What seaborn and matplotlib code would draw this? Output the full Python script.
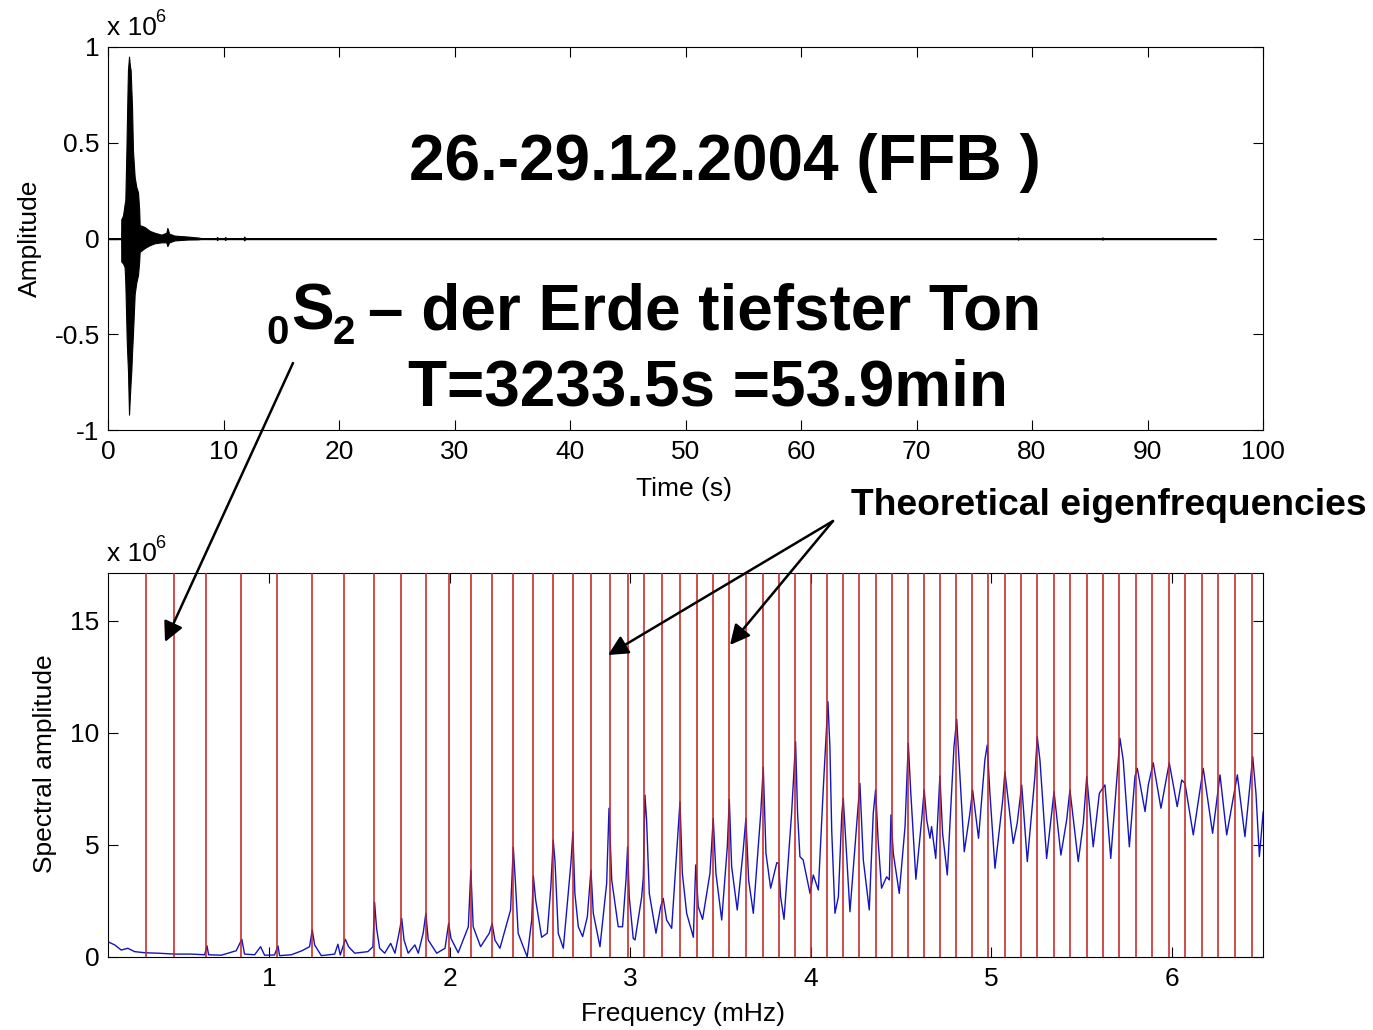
import matplotlib
matplotlib.use("Agg")
import matplotlib.pyplot as plt
import seaborn as sns

# ---------------- data ----------------
# Upper panel: seismogram envelope (units of 1e6)
time_env = [0.0, 1.14, 1.15, 1.30, 1.44, 1.50, 1.59, 1.62, 1.70, 1.73, 1.82, 1.90,
            1.96, 2.02, 2.08, 2.16, 2.31, 2.45, 2.60, 2.70, 2.74, 3.17, 3.61, 4.04,
            4.62, 5.05, 5.14, 5.30, 5.77, 6.93, 7.80, 8.30, 9.35, 9.45, 9.55, 10.05,
            10.15, 10.25, 11.70, 11.80, 11.90, 78.7, 78.8, 78.9, 86.0, 86.1, 86.2, 95.9]
upper_env = [0.0, 0.0, 0.10, 0.12, 0.18, 0.20, 0.45, 0.55, 0.80, 0.88, 0.95, 0.90,
             0.88, 0.78, 0.69, 0.46, 0.32, 0.27, 0.24, 0.15, 0.07, 0.06, 0.04, 0.03,
             0.02, 0.03, 0.055, 0.025, 0.015, 0.010, 0.005, 0.0, 0.0, 0.008, 0.0, 0.0,
             0.008, 0.0, 0.0, 0.010, 0.0, 0.0, 0.006, 0.0, 0.0, 0.006, 0.0, 0.0]
lower_env = [0.0, 0.0, -0.12, -0.13, -0.15, -0.23, -0.45, -0.53, -0.65, -0.69, -0.92, -0.82,
             -0.75, -0.69, -0.60, -0.50, -0.29, -0.23, -0.19, -0.12, -0.07, -0.05, -0.035, -0.025,
             -0.02, -0.02, -0.04, -0.02, -0.01, -0.005, -0.004, 0.0, 0.0, -0.008, 0.0, 0.0,
             -0.008, 0.0, 0.0, -0.010, 0.0, 0.0, -0.006, 0.0, 0.0, -0.006, 0.0, 0.0]
baseline_t = [0.0, 95.9]
baseline_a = [0.0, 0.0]

# Lower panel: amplitude spectrum (units of 1e6), frequency in mHz
spec_freq = [0.109, 0.146, 0.182, 0.219, 0.256, 0.312, 0.385, 0.478, 0.570, 0.644, 0.657, 0.666,
             0.736, 0.819, 0.850, 0.865, 0.921, 0.954, 0.976, 1.031, 1.050, 1.059, 1.124, 1.183,
             1.225, 1.240, 1.253, 1.290, 1.364, 1.382, 1.395, 1.423, 1.441, 1.475, 1.548, 1.576,
             1.585, 1.596, 1.613, 1.641, 1.674, 1.698, 1.722, 1.735, 1.748, 1.771, 1.808, 1.827,
             1.854, 1.869, 1.882, 1.929, 1.975, 1.995, 2.008, 2.048, 2.104, 2.118, 2.131, 2.172,
             2.220, 2.236, 2.251, 2.279, 2.338, 2.353, 2.364, 2.380, 2.408, 2.430, 2.455, 2.464,
             2.477, 2.510, 2.541, 2.561, 2.574, 2.584, 2.602, 2.630, 2.672, 2.683, 2.694, 2.713,
             2.737, 2.763, 2.783, 2.796, 2.833, 2.870, 2.883, 2.898, 2.934, 2.958, 2.977, 2.986,
             2.995, 3.017, 3.027, 3.064, 3.073, 3.082, 3.091, 3.106, 3.143, 3.169, 3.183, 3.202,
             3.230, 3.257, 3.276, 3.289, 3.313, 3.350, 3.363, 3.377, 3.401, 3.442, 3.460, 3.475,
             3.507, 3.538, 3.549, 3.562, 3.593, 3.626, 3.641, 3.656, 3.682, 3.723, 3.737, 3.752,
             3.778, 3.812, 3.822, 3.833, 3.852, 3.894, 3.916, 3.927, 3.940, 3.958, 3.977, 3.996,
             4.014, 4.042, 4.069, 4.095, 4.106, 4.116, 4.134, 4.153, 4.172, 4.180, 4.217, 4.272,
             4.291, 4.324, 4.346, 4.359, 4.374, 4.392, 4.420, 4.435, 4.444, 4.457, 4.490, 4.522,
             4.540, 4.553, 4.582, 4.614, 4.628, 4.642, 4.660, 4.669, 4.692, 4.715, 4.730, 4.756,
             4.793, 4.808, 4.821, 4.850, 4.881, 4.896, 4.929, 4.964, 4.977, 4.992, 5.020, 5.063,
             5.075, 5.121, 5.143, 5.168, 5.199, 5.241, 5.254, 5.269, 5.306, 5.347, 5.385, 5.417,
             5.435, 5.481, 5.509, 5.528, 5.564, 5.598, 5.629, 5.661, 5.697, 5.712, 5.730, 5.764,
             5.795, 5.808, 5.851, 5.869, 5.896, 5.939, 5.985, 6.029, 6.054, 6.072, 6.118, 6.173,
             6.225, 6.266, 6.303, 6.362, 6.404, 6.447, 6.465, 6.484, 6.505]
spec_amp = [0.68, 0.54, 0.31, 0.39, 0.24, 0.19, 0.17, 0.13, 0.13, 0.10, 0.50, 0.10,
            0.08, 0.28, 0.79, 0.13, 0.10, 0.46, 0.08, 0.09, 0.50, 0.06, 0.10, 0.28,
            0.46, 1.21, 0.54, 0.06, 0.13, 0.57, 0.09, 0.79, 0.46, 0.17, 0.24, 0.46,
            2.44, 1.28, 0.39, 0.17, 0.61, 0.17, 1.13, 1.73, 0.76, 0.17, 0.54, 0.17,
            1.06, 1.95, 0.76, 0.17, 0.39, 1.50, 0.83, 0.19, 1.35, 3.88, 1.35, 0.46,
            1.06, 1.50, 0.76, 0.39, 2.10, 4.90, 3.44, 1.06, 0.46, 0.01, 1.65, 3.62,
            2.54, 0.88, 1.06, 3.14, 5.22, 4.26, 1.06, 0.39, 4.18, 5.59, 2.84, 1.35,
            0.91, 1.80, 3.88, 1.95, 0.46, 3.29, 6.64, 3.44, 1.35, 1.35, 3.44, 4.92,
            2.69, 0.83, 0.76, 2.69, 3.58, 7.23, 6.12, 2.84, 1.06, 2.25, 2.62, 1.65,
            1.28, 4.63, 6.93, 3.74, 1.95, 0.88, 4.11, 2.25, 1.68, 3.74, 6.19, 3.74,
            1.65, 4.92, 7.04, 4.03, 2.10, 4.78, 6.19, 3.44, 1.95, 6.41, 8.47, 4.63,
            3.07, 4.21, 4.18, 2.69, 1.68, 6.41, 9.61, 6.41, 4.48, 4.33, 3.58, 2.84,
            3.66, 2.99, 7.46, 11.40, 9.39, 5.67, 1.95, 2.69, 6.41, 7.08, 2.02, 7.75,
            4.33, 2.10, 6.41, 7.46, 5.07, 3.07, 3.58, 3.44, 6.34, 4.63, 2.84, 5.82,
            9.54, 7.46, 3.47, 6.12, 7.46, 6.12, 5.30, 5.82, 4.40, 8.08, 5.52, 3.66,
            9.39, 10.61, 8.79, 4.70, 6.41, 7.46, 5.30, 8.79, 9.46, 7.31, 3.96, 7.01,
            8.27, 5.07, 5.97, 7.68, 4.26, 8.05, 9.83, 8.79, 4.40, 7.38, 4.55, 6.12,
            7.46, 4.26, 5.97, 8.05, 4.92, 7.31, 7.68, 4.40, 8.20, 9.76, 8.79, 4.92,
            8.05, 8.42, 6.49, 7.68, 8.67, 6.64, 8.67, 6.71, 7.90, 7.75, 5.45, 8.42,
            5.52, 8.13, 5.45, 8.13, 5.37, 8.94, 7.31, 4.48, 6.49]

# Theoretical eigenfrequencies (mHz), red vertical lines
eigen_freq = [0.317, 0.474, 0.653, 0.845, 1.043, 1.238, 1.417, 1.581, 1.733, 1.869,
              1.997, 2.118, 2.235, 2.351, 2.462, 2.573, 2.682, 2.783, 2.888, 2.986,
              3.078, 3.178, 3.274, 3.370, 3.460, 3.549, 3.641, 3.734, 3.822, 3.911,
              4.001, 4.090, 4.180, 4.269, 4.361, 4.448, 4.537, 4.627, 4.715, 4.806,
              4.894, 4.983, 5.074, 5.164, 5.253, 5.348, 5.437, 5.528, 5.618, 5.708,
              5.801, 5.891, 5.982, 6.072, 6.164, 6.256, 6.347, 6.441]

time_ticks = [0, 10, 20, 30, 40, 50, 60, 70, 80, 90, 100]
amp_ticks = [-1, -0.5, 0, 0.5, 1]
amp_tick_labels = ["-1", "-0.5", "0", "0.5", "1"]
freq_ticks = [1, 2, 3, 4, 5, 6]
spec_ticks = [0, 5, 10, 15]

# ---------------- styling ----------------
sns.set_style("white")
plt.rcParams["font.family"] = ["Liberation Sans", "DejaVu Sans"]
plt.rcParams["axes.unicode_minus"] = False
plt.rcParams["text.color"] = "black"
plt.rcParams["axes.labelcolor"] = "black"
plt.rcParams["xtick.color"] = "black"
plt.rcParams["ytick.color"] = "black"
plt.rcParams["axes.edgecolor"] = "black"

W, H = 1373, 1030
fig = plt.figure(figsize=(W / 100, H / 100), dpi=100)
fig.patch.set_facecolor("white")


def fx(x):
    return x / W


def fy(y):
    return 1 - y / H


ax1 = fig.add_axes([fx(108), fy(430), 1155 / W, 383 / H])
ax2 = fig.add_axes([fx(108), fy(957), 1155 / W, 384 / H])

# ---- upper panel ----
ax1.fill_between(time_env, lower_env, upper_env, color="black", lw=0.8, zorder=2)
sns.lineplot(x=baseline_t, y=baseline_a, ax=ax1, color="black", lw=1.0, zorder=3)
ax1.set_xlim(0, 100)
ax1.set_ylim(-1, 1)
ax1.set_xticks(time_ticks)
ax1.set_xticklabels([str(t) for t in time_ticks])
ax1.set_yticks(amp_ticks)
ax1.set_yticklabels(amp_tick_labels)

# ---- lower panel ----
sns.lineplot(x=spec_freq, y=spec_amp, ax=ax2, color="#1414c0", lw=1.0, zorder=2,
             sort=False)
ax2.vlines(eigen_freq, 0, 1, transform=ax2.get_xaxis_transform(),
           colors="#c42020", lw=1.4, alpha=0.8, zorder=3)
ax2.set_xlim(0.109, 6.504)
ax2.set_ylim(0, 17.14)
ax2.set_xticks(freq_ticks)
ax2.set_xticklabels([str(f) for f in freq_ticks])
ax2.set_yticks(spec_ticks)
ax2.set_yticklabels([str(s) for s in spec_ticks])

for ax in (ax1, ax2):
    ax.set_xlabel("")
    ax.set_ylabel("")
    ax.grid(False)
    ax.tick_params(direction="in", length=7, width=0.8, top=True, right=True,
                   left=True, bottom=True, labelsize=19, colors="black")
    ax.tick_params(axis="x", pad=7)
    ax.tick_params(axis="y", pad=6)
    for sp in ax.spines.values():
        sp.set_visible(True)
        sp.set_color("black")
        sp.set_linewidth(0.8)

# axis labels & exponent markers
fig.text(fx(684), fy(496), "Time (s)", ha="center", va="baseline", fontsize=19)
fig.text(fx(683), fy(1021), "Frequency (mHz)", ha="center", va="baseline", fontsize=19)
fig.text(fx(30), fy(238), "Amplitude", rotation=90, ha="center", va="center", fontsize=19)
fig.text(fx(45), fy(764), "Spectral amplitude", rotation=90, ha="center", va="center",
         fontsize=19)
for base in (35, 561):
    fig.text(fx(107), fy(base), "x 10", ha="left", va="baseline", fontsize=19)
    fig.text(fx(155), fy(base - 13), "6", ha="left", va="baseline", fontsize=13)

# big annotation texts
fig.text(fx(409), fy(180), "26.-29.12.2004 (FFB )", ha="left", va="baseline",
         fontsize=46, fontweight="bold")
fig.text(fx(266), fy(344), "0", ha="left", va="baseline", fontsize=29, fontweight="bold")
fig.text(fx(291), fy(329), "S", ha="left", va="baseline", fontsize=46, fontweight="bold")
fig.text(fx(333), fy(344), "2", ha="left", va="baseline", fontsize=29, fontweight="bold")
fig.text(fx(368), fy(329), "\u2013 der Erde tiefster Ton", ha="left", va="baseline",
         fontsize=46, fontweight="bold")
fig.text(fx(408), fy(406), "T=3233.5s =53.9min", ha="left", va="baseline",
         fontsize=46, fontweight="bold")
fig.text(fx(851), fy(515), "Theoretical eigenfrequencies", ha="left", va="baseline",
         fontsize=26.8, fontweight="bold")

# arrows
arrow_kw = dict(arrowstyle="-|>,head_length=0.6,head_width=0.3", mutation_scale=20,
                lw=1.8, color="black", shrinkA=0, shrinkB=0)
for (x0, y0), (x1, y1) in [((293, 363), (165, 642)),
                           ((833, 521), (608, 655)),
                           ((833, 521), (730, 645))]:
    ax2.annotate("", xy=(x1, H - y1), xytext=(x0, H - y0),
                 xycoords="figure pixels", textcoords="figure pixels",
                 arrowprops=arrow_kw, annotation_clip=False)

fig.savefig("out.png", dpi=100, facecolor="white")
